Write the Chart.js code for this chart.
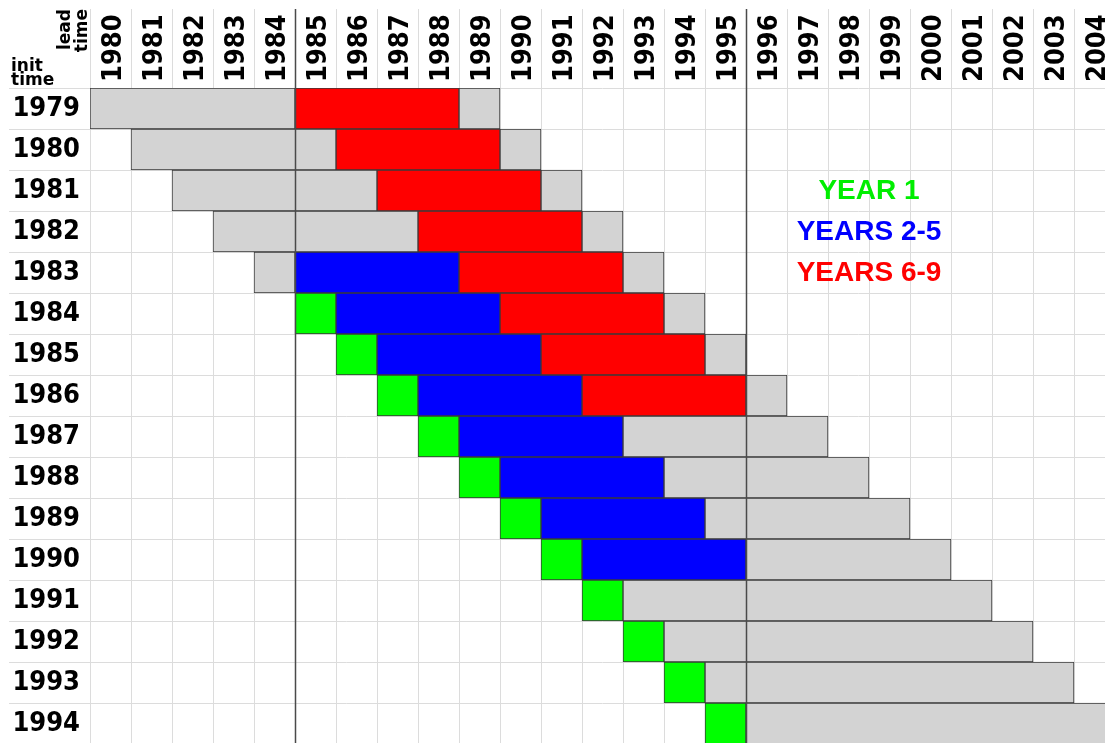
<!DOCTYPE html>
<html>
<head>
<meta charset="utf-8">
<title>Init time vs lead time</title>
<script src="https://cdn.jsdelivr.net/npm/chart.js@4.4.1/dist/chart.umd.min.js"></script>
<style>
  html, body { margin: 0; padding: 0; background: #fff; overflow: hidden; }
  #wrap { width: 1115px; height: 744px; }
</style>
</head>
<body>
<div id="wrap"><canvas id="grid" width="1115" height="744"></canvas></div>
<script>
const initYears = ["1979", "1980", "1981", "1982", "1983", "1984", "1985", "1986",
  "1987", "1988", "1989", "1990", "1991", "1992", "1993", "1994"];
const leadYears = ["1980", "1981", "1982", "1983", "1984", "1985", "1986", "1987", "1988",
  "1989", "1990", "1991", "1992", "1993", "1994", "1995", "1996", "1997", "1998", "1999",
  "2000", "2001", "2002", "2003", "2004"];

// first and last verification year (inclusive) of each segment, one entry per init year
const grayBefore = [[1980, 1984], [1981, 1985], [1982, 1986], [1983, 1987], [1984, 1984],
  null, null, null, null, null, null, null, null, null, null, null];
const year1 = [null, null, null, null, null, [1985, 1985], [1986, 1986], [1987, 1987],
  [1988, 1988], [1989, 1989], [1990, 1990], [1991, 1991], [1992, 1992], [1993, 1993],
  [1994, 1994], [1995, 1995]];
const years2to5 = [null, null, null, null, [1985, 1988], [1986, 1989], [1987, 1990],
  [1988, 1991], [1989, 1992], [1990, 1993], [1991, 1994], [1992, 1995],
  null, null, null, null];
const years6to9 = [[1985, 1988], [1986, 1989], [1987, 1990], [1988, 1991], [1989, 1992],
  [1990, 1993], [1991, 1994], [1992, 1995], null, null, null, null, null, null, null, null];
const grayAfter = [[1989, 1989], [1990, 1990], [1991, 1991], [1992, 1992], [1993, 1993],
  [1994, 1994], [1995, 1995], [1996, 1996], [1993, 1997], [1994, 1998], [1995, 1999],
  [1996, 2000], [1993, 2001], [1994, 2002], [1995, 2003], [1996, 2004]];

const periodBounds = [1984.5, 1995.5];
const legendItems = [
  { text: "YEAR 1", color: "#00ee00", row: "1981" },
  { text: "YEARS 2-5", color: "#0000ff", row: "1982" },
  { text: "YEARS 6-9", color: "#ff0000", row: "1983" }
];

const toBars = arr => arr.map(r => r ? [r[0] - 0.5, r[1] + 0.5] : null);
const colBounds = leadYears.map(y => +y - 0.5).concat(+leadYears[leadYears.length - 1] + 0.5);

const overlay = {
  id: "overlay",
  afterDatasetsDraw(chart) {
    const { ctx, chartArea, scales } = chart;
    ctx.save();
    ctx.strokeStyle = "#4a4a4a";
    ctx.lineWidth = 1.5;
    periodBounds.forEach(v => {
      const px = Math.round(scales.x.getPixelForValue(v)) + 0.5;
      ctx.beginPath();
      ctx.moveTo(px, 9);
      ctx.lineTo(px, chartArea.bottom);
      ctx.stroke();
    });
    ctx.restore();
  },
  afterDraw(chart) {
    const { ctx, scales } = chart;
    ctx.save();
    ctx.font = 'bold 28px "Liberation Sans"';
    ctx.textAlign = "center";
    ctx.textBaseline = "middle";
    legendItems.forEach(item => {
      ctx.fillStyle = item.color;
      ctx.fillText(item.text, scales.x.getPixelForValue(1998.5),
        scales.y.getPixelForValue(initYears.indexOf(item.row)) + 1);
    });

    ctx.fillStyle = "#000";
    ctx.font = 'bold 17px "DejaVu Sans"';
    ctx.textAlign = "left";
    ctx.textBaseline = "alphabetic";
    ctx.fillText("init", 11, 71);
    ctx.fillText("time", 11, 85);
    ctx.textAlign = "right";
    [["lead", 70], ["time", 87]].forEach(([t, bx]) => {
      ctx.save();
      ctx.translate(bx, 9);
      ctx.rotate(-Math.PI / 2);
      ctx.fillText(t, 0, 0);
      ctx.restore();
    });
    ctx.restore();
  }
};

new Chart(document.getElementById("grid"), {
  type: "bar",
  data: {
    labels: initYears,
    datasets: [
      { label: "gray", data: toBars(grayBefore), backgroundColor: "#d3d3d3" },
      { label: "YEAR 1", data: toBars(year1), backgroundColor: "#00ff00" },
      { label: "YEARS 2-5", data: toBars(years2to5), backgroundColor: "#0000ff" },
      { label: "YEARS 6-9", data: toBars(years6to9), backgroundColor: "#ff0000" },
      { label: "gray", data: toBars(grayAfter), backgroundColor: "#d3d3d3" }
    ]
  },
  options: {
    indexAxis: "y",
    responsive: false,
    devicePixelRatio: 1,
    animation: false,
    layout: { padding: 0 },
    datasets: {
      bar: {
        grouped: false,
        barPercentage: 1,
        categoryPercentage: 1,
        borderWidth: 1,
        borderColor: "#3a3a3a",
        borderSkipped: false
      }
    },
    plugins: {
      legend: { display: false },
      tooltip: { enabled: false }
    },
    scales: {
      x: {
        type: "linear",
        position: "top",
        min: colBounds[0],
        max: colBounds[colBounds.length - 1],
        afterBuildTicks: s => { s.ticks = colBounds.map(v => ({ value: v })); },
        afterFit: s => { s.height = 88; s.paddingLeft = 0; s.paddingRight = 0; },
        grid: { color: "#dcdcdc", tickLength: 79 },
        border: { display: false },
        ticks: {
          autoSkip: false,
          minRotation: 90,
          maxRotation: 90,
          padding: -73,
          labelOffset: 56,
          color: "#000",
          font: { family: "DejaVu Sans Condensed", weight: "bold", size: 27 },
          callback: (v, i) => leadYears[i] || ""
        }
      },
      y: {
        type: "category",
        position: "left",
        offset: true,
        afterFit: s => { s.width = 90; s.paddingTop = 0; s.paddingBottom = 0; },
        grid: { color: "#dcdcdc", tickLength: 81, offset: true },
        border: { display: false },
        ticks: {
          padding: -71,
          crossAlign: "near",
          color: "#000",
          font: { family: "DejaVu Sans Condensed", weight: "bold", size: 27 }
        }
      }
    }
  },
  plugins: [overlay]
});
</script>
</body>
</html>
